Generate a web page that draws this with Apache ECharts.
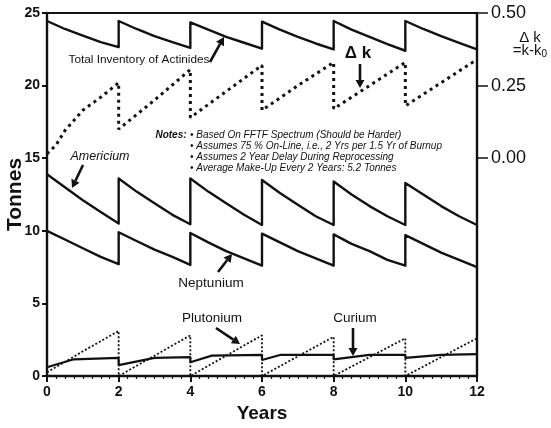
<!DOCTYPE html>
<html><head><meta charset="utf-8">
<script src="https://cdn.jsdelivr.net/npm/echarts@6/dist/echarts.min.js"></script>
<style>html,body{margin:0;padding:0;background:#fff}#c{width:551px;height:428px}</style>
</head><body><div id="c"></div>
<script>
// ---- data (years, tonnes) ----
const xTicks = [0, 2, 4, 6, 8, 10, 12];
const leftTicks = [0, 5, 10, 15, 20, 25];
const rightTicks = [0, 0.25, 0.5];

const totalInventory = [
  [0,24.45],[0.5,23.9],[1,23.45],[1.5,23.0],[2,22.65],
  [2,24.45],[2.5,23.9],[3,23.4],[3.5,23.0],[4,22.6],
  [4,24.35],[4.5,23.85],[5,23.35],[5.5,22.95],[6,22.55],
  [6,24.4],[6.5,23.85],[7,23.35],[7.5,22.9],[8,22.5],
  [8,24.45],[8.5,23.85],[9,23.35],[9.5,22.85],[10,22.4],
  [10,24.45],[10.5,23.9],[11,23.4],[11.5,22.95],[12,22.5]
];
const americium = [
  [0,13.9],[0.5,13.0],[1,12.1],[1.5,11.3],[2,10.5],
  [2,13.6],[2.5,12.7],[3,11.9],[3.5,11.1],[4,10.45],
  [4,13.6],[4.5,12.7],[5,11.9],[5.5,11.1],[6,10.4],
  [6,13.5],[6.5,12.6],[7,11.8],[7.5,11.0],[8,10.4],
  [8,13.4],[8.5,12.5],[9,11.7],[9.5,11.0],[10,10.4],
  [10,13.3],[10.5,12.5],[11,11.7],[11.5,11.0],[12,10.4]
];
const neptunium = [
  [0,10.0],[0.5,9.4],[1,8.8],[1.5,8.2],[2,7.7],
  [2,9.9],[2.5,9.3],[3,8.7],[3.5,8.2],[4,7.65],
  [4,9.85],[4.5,9.2],[5,8.6],[5.5,8.1],[6,7.6],
  [6,9.8],[6.5,9.2],[7,8.6],[7.5,8.1],[8,7.6],
  [8,9.75],[8.5,9.1],[9,8.6],[9.5,8.0],[10,7.6],
  [10,9.7],[10.5,9.1],[11,8.5],[11.5,8.0],[12,7.5]
];
const plutonium = [
  [0,0.25],[1,1.7],[2,3.1],
  [2,0],[3,1.4],[4,2.8],
  [4,0],[5,1.4],[6,2.8],
  [6,0],[7,1.35],[8,2.7],
  [8,0],[9,1.3],[10,2.6],
  [10,0],[11,1.3],[12,2.6]
];
const curium = [
  [0,0.6],[0.75,1.15],[2,1.25],
  [2,0.75],[3,1.25],[4,1.3],
  [4,0.95],[4.6,1.4],[6,1.45],
  [6,1.1],[6.5,1.45],[8,1.45],
  [8,1.15],[9,1.45],[10,1.45],
  [10,1.25],[11,1.45],[12,1.5]
];
const deltaK = [
  [0,0.015],[0.25,0.045],[0.5,0.095],[1,0.165],[1.5,0.21],[2,0.26],
  [2,0.1],[3,0.2],[4,0.305],
  [4,0.14],[5,0.23],[6,0.32],
  [6,0.165],[7,0.25],[8,0.33],
  [8,0.17],[9,0.25],[10,0.33],
  [10,0.18],[11,0.26],[12,0.34]
];

const chart = echarts.init(document.getElementById('c'), null, {renderer: 'canvas'});
const FONT = '"Liberation Sans", Arial, sans-serif';
const black = '#111';

function lineSeries(name, data, opts) {
  return Object.assign({
    name, type: 'line', data, showSymbol: false, symbol: 'none', animation: false,
    lineStyle: {color: black, width: 2.4, type: 'solid', join: 'round'},
    z: 3
  }, opts || {});
}

function arrow(x1, y1, x2, y2) {
  const dx = x2 - x1, dy = y2 - y1, L = Math.sqrt(dx*dx + dy*dy);
  const ux = dx / L, uy = dy / L, hl = 8, hw = 4.5;
  const bx = x2 - ux*hl, by = y2 - uy*hl;
  return [
    {type: 'line', shape: {x1, y1, x2: bx, y2: by}, style: {stroke: black, lineWidth: 2.6}},
    {type: 'polygon', shape: {points: [[x2, y2], [bx - uy*hw, by + ux*hw], [bx + uy*hw, by - ux*hw]]}, style: {fill: black}}
  ];
}

const notes = [
  '• Based On FFTF Spectrum (Should be Harder)',
  '• Assumes 75 % On-Line, i.e., 2 Yrs per 1.5 Yr of Burnup',
  '• Assumes 2 Year Delay During Reprocessing',
  '• Average Make-Up Every 2 Years: 5.2 Tonnes'
];

function txt(x, y, text, size, extra) {
  return {type: 'text', x, y, style: Object.assign({text, fill: black, font: size + 'px ' + FONT, textAlign: 'center', textVerticalAlign: 'middle'}, extra || {})};
}

const graphics = [
  txt(139, 60, 'Total Inventory of Actinides', 11.8),
  ...arrow(210, 62, 224, 37),
  txt(100, 157, 'Americium', 12.5, {font: 'italic 12.5px ' + FONT}),
  ...arrow(83, 165, 72, 188),
  txt(358, 53, 'Δ k', 17, {font: 'bold 17px ' + FONT}),
  ...arrow(360, 64, 360, 88),
  txt(211, 283, 'Neptunium', 13.5),
  ...arrow(218, 272, 232, 254),
  txt(212, 318, 'Plutonium', 13.5),
  ...arrow(216, 328, 240, 344),
  txt(355, 318, 'Curium', 13.5),
  ...arrow(353, 328, 353, 356),
  txt(171, 135, 'Notes:', 10, {font: 'italic bold 10px ' + FONT}),
  ...notes.map((t, i) => ({type: 'text', x: 190, y: 135 + i * 11.2, style: {text: t, fill: black, font: 'italic 10px ' + FONT, textAlign: 'left', textVerticalAlign: 'middle'}})),
  txt(530, 38, 'Δ k', 15),
  {type: 'text', x: 530, y: 51, style: {
    text: '{a|=k-k}{b|0}', fill: black, textAlign: 'center', textVerticalAlign: 'middle',
    rich: {a: {fontSize: 15, fontFamily: FONT, fill: black}, b: {fontSize: 10, fontFamily: FONT, fill: black, padding: [7, 0, 0, 0]}}
  }}
];

chart.setOption({
  backgroundColor: '#fff',
  animation: false,
  grid: {left: 47, right: 74, top: 13, bottom: 52, containLabel: false, outerBoundsMode: 'none',
    show: true, borderColor: black, borderWidth: 2, backgroundColor: 'transparent'},
  xAxis: {
    type: 'value', min: 0, max: 12, interval: 2,
    name: 'Years', nameLocation: 'middle', nameGap: 25,
    nameTextStyle: {fontFamily: FONT, fontWeight: 'bold', fontSize: 19, color: black},
    axisLine: {lineStyle: {color: black, width: 2.4}},
    axisTick: {show: true, inside: false, length: 6, lineStyle: {color: black, width: 2}},
    minorTick: {show: true, splitNumber: 8, length: 3, lineStyle: {color: black, width: 1.2}},
    splitLine: {show: false},
    axisLabel: {customValues: xTicks, fontFamily: FONT, fontWeight: 'bold', fontSize: 14, color: black, margin: 9}
  },
  yAxis: [{
    type: 'value', min: 0, max: 25, interval: 5,
    name: 'Tonnes', nameLocation: 'middle', nameGap: 21, nameRotate: 90, nameMoveOverlap: false,
    nameTextStyle: {fontFamily: FONT, fontWeight: 'bold', fontSize: 21, color: black},
    axisLine: {show: true, lineStyle: {color: black, width: 2.4}},
    axisTick: {show: true, length: 5, lineStyle: {color: black, width: 2}},
    splitLine: {show: false},
    axisLabel: {customValues: leftTicks, fontFamily: FONT, fontWeight: 'bold', fontSize: 14, color: black, margin: 7}
  }, {
    type: 'value', min: -0.75, max: 0.5, interval: 0.25, position: 'right',
    axisLine: {show: true, lineStyle: {color: black, width: 2.4}},
    axisTick: {show: true, customValues: rightTicks, length: 11, lineStyle: {color: black, width: 1.5}},
    splitLine: {show: false},
    axisLabel: {customValues: rightTicks, fontFamily: FONT, fontSize: 18, color: black, margin: 14, formatter: v => v.toFixed(2)}
  }],
  series: [
    lineSeries('Total Inventory of Actinides', totalInventory),
    lineSeries('Americium', americium),
    lineSeries('Neptunium', neptunium),
    lineSeries('Plutonium', plutonium, {lineStyle: {color: black, width: 1.8, type: [2, 2]}}),
    lineSeries('Curium', curium, {lineStyle: {color: black, width: 2.2}}),
    lineSeries('Δk', deltaK, {yAxisIndex: 1, lineStyle: {color: black, width: 3, type: [3, 4], cap: 'butt'}})
  ],
  graphic: graphics
});
</script></body></html>
